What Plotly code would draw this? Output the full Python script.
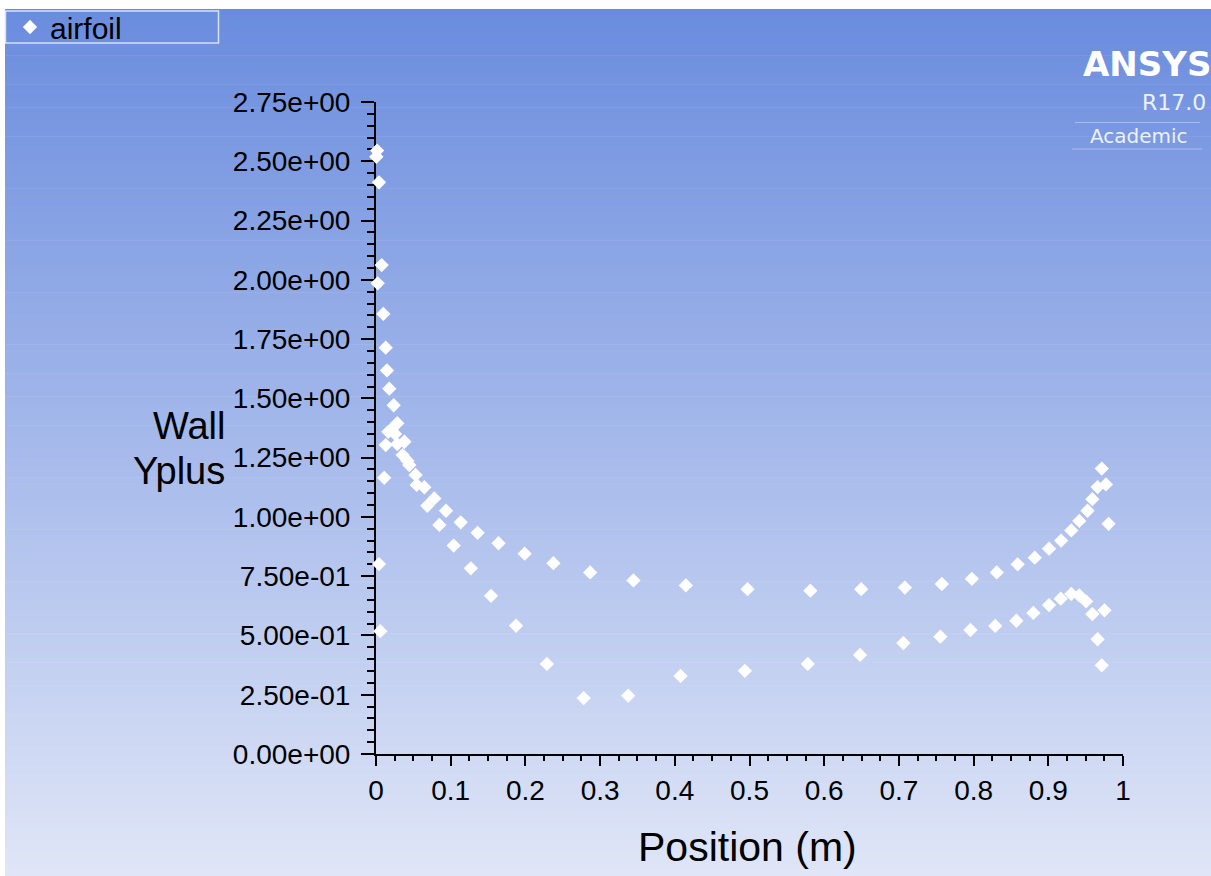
import plotly.graph_objects as go

W, H = 1211, 876

# ---------------- data ----------------
position = [
    0.0015, 0.0005, 0.0040, 0.0076, 0.0023, 0.0098, 0.0130, 0.0147, 0.0178, 0.0237,
    0.0285, 0.0215, 0.0165, 0.0255, 0.0130, 0.0285, 0.0380, 0.0357, 0.0420, 0.0446,
    0.0110, 0.0530, 0.0545, 0.0647, 0.0780, 0.0687, 0.0937, 0.0848, 0.1134, 0.1360,
    0.1040, 0.1640, 0.1990, 0.2375, 0.0040, 0.1270, 0.0058, 0.1540, 0.1875,
    # upper branch
    0.2867, 0.3446, 0.4148, 0.4974, 0.5815, 0.6495, 0.7080, 0.7575, 0.7977, 0.8310,
    0.8590, 0.8819, 0.9010, 0.9172, 0.9308, 0.9415, 0.9525, 0.9590, 0.9660, 0.9772,
    0.9716, 0.9807,
    # lower branch
    0.2288, 0.2780, 0.3376, 0.4077, 0.4938, 0.5780, 0.6480, 0.7060, 0.7555, 0.7958,
    0.8290, 0.8573, 0.8800, 0.9010, 0.9167, 0.9308, 0.9415, 0.9505, 0.9590, 0.9752,
    0.9660, 0.9716,
]
yplus = [
    2.545, 2.519, 2.411, 2.062, 1.985, 1.856, 1.714, 1.618, 1.541, 1.471,
    1.395, 1.372, 1.359, 1.350, 1.303, 1.307, 1.317, 1.261, 1.237, 1.219,
    1.165, 1.177, 1.135, 1.125, 1.078, 1.047, 1.026, 0.966, 0.977, 0.933,
    0.879, 0.889, 0.845, 0.805, 0.801, 0.783, 0.518, 0.667, 0.541,
    0.766, 0.732, 0.711, 0.695, 0.689, 0.695, 0.702, 0.717, 0.739, 0.766,
    0.800, 0.828, 0.866, 0.900, 0.943, 0.983, 1.026, 1.075, 1.126, 1.137,
    1.204, 0.971,
    0.380, 0.236, 0.246, 0.329, 0.351, 0.380, 0.418, 0.468, 0.495, 0.523,
    0.540, 0.562, 0.595, 0.628, 0.655, 0.675, 0.669, 0.644, 0.590, 0.606,
    0.484, 0.374,
]
x_tickvals = [0, 0.1, 0.2, 0.3, 0.4, 0.5, 0.6, 0.7, 0.8, 0.9, 1.0]
x_ticktext = ["0", "0.1", "0.2", "0.3", "0.4", "0.5", "0.6", "0.7", "0.8", "0.9", "1"]
y_tickvals = [0, 0.25, 0.5, 0.75, 1.0, 1.25, 1.5, 1.75, 2.0, 2.25, 2.5, 2.75]
y_ticktext = ["0.00e+00", "2.50e-01", "5.00e-01", "7.50e-01", "1.00e+00", "1.25e+00",
              "1.50e+00", "1.75e+00", "2.00e+00", "2.25e+00", "2.50e+00", "2.75e+00"]


def px(x):
    return x / W


def py(y):
    return 1 - y / H


FONT = "Liberation Sans, Arial, sans-serif"
LOGO_FONT = "DejaVu Sans, Verdana, sans-serif"

fig = go.Figure()
fig.add_trace(go.Scatter(
    x=position, y=yplus, mode="markers", name="airfoil",
    marker=dict(symbol="diamond", color="white", size=11, line=dict(width=0)),
    cliponaxis=False,
))

# background gradient (stripes)
shapes = []
top_c = (106, 140, 222)
bot_c = (224, 230, 247)
y0, y1 = 9, H
n = 150
for i in range(n):
    t = (i + 0.5) / n
    c = tuple(round(top_c[k] + (bot_c[k] - top_c[k]) * t) for k in range(3))
    ya = y0 + (y1 - y0) * i / n
    yb = y0 + (y1 - y0) * (i + 1) / n + 0.6
    shapes.append(dict(type="rect", xref="paper", yref="paper", layer="below",
                       x0=px(5), x1=1.0, y0=py(yb), y1=py(ya),
                       line=dict(width=0), fillcolor="rgb(%d,%d,%d)" % c))
# legend box
shapes.append(dict(type="rect", xref="paper", yref="paper", layer="above",
                   x0=px(5.5), x1=px(218.5), y0=py(43), y1=py(11),
                   line=dict(color="rgb(214,224,247)", width=1.5), fillcolor="rgba(0,0,0,0)"))
# logo lines
shapes.append(dict(type="line", xref="paper", yref="paper", x0=px(1075), x1=px(1200),
                   y0=py(122.5), y1=py(122.5), line=dict(color="rgba(200,214,245,0.6)", width=1)))
shapes.append(dict(type="line", xref="paper", yref="paper", x0=px(1072), x1=px(1202),
                   y0=py(149), y1=py(149), line=dict(color="rgba(200,214,245,0.6)", width=1)))


def ann(text, x, y, xanchor, size, color="black", family=FONT):
    return dict(text=text, x=px(x), y=py(y), xref="paper", yref="paper",
                xanchor=xanchor, yanchor="middle", showarrow=False,
                font=dict(family=family, size=size, color=color))


annotations = [
    ann("Wall", 227, 425.5, "right", 38),
    ann("Yplus", 227, 470.5, "right", 38),
    ann("Position (m)", 748, 847, "center", 41),
    ann("<b>ANSYS</b>", 1081, 64, "left", 34, "white", LOGO_FONT),
    ann("R17.0", 1208, 102, "right", 22, "rgb(236,241,252)", LOGO_FONT),
    ann("Academic", 1139, 136, "center", 20, "rgb(236,241,252)", LOGO_FONT),
]

axis_common = dict(
    showline=True, linecolor="black", linewidth=2, mirror=False,
    ticks="outside", tickcolor="black", tickwidth=2,
    showgrid=False, zeroline=False, layer="below traces",
    tickfont=dict(family=FONT, size=28, color="black"),
    automargin=False, fixedrange=True,
)

fig.update_layout(
    width=W, height=H,
    margin=dict(l=0, r=0, t=0, b=0),
    paper_bgcolor="white", plot_bgcolor="rgba(0,0,0,0)",
    showlegend=True,
    legend=dict(x=px(10), y=py(1), xanchor="left", yanchor="top",
                bgcolor="rgba(0,0,0,0)", borderwidth=0,
                font=dict(family=FONT, size=30, color="black")),
    xaxis=dict(domain=[px(376), px(1123)], range=[0, 1],
               tickmode="array", tickvals=x_tickvals, ticktext=x_ticktext,
               ticklen=10, ticklabelstandoff=0,
               minor=dict(ticks="outside", ticklen=5, tickwidth=1.5, tickcolor="black", dtick=0.025),
               **axis_common),
    yaxis=dict(domain=[1 - 754 / H, 1 - 102 / H], range=[0, 2.75],
               tickmode="array", tickvals=y_tickvals, ticktext=y_ticktext,
               ticklen=13, ticklabelstandoff=5,
               minor=dict(ticks="outside", ticklen=7, tickwidth=1.5, tickcolor="black", dtick=0.05),
               **axis_common),
    shapes=shapes,
    annotations=annotations,
)

fig.write_html("out.html")
